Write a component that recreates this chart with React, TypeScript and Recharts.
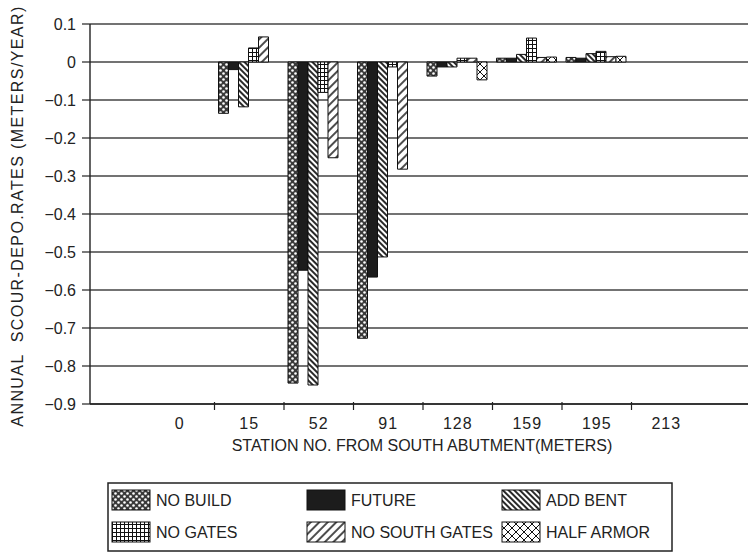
import React from 'react';
import { BarChart, Bar, XAxis, YAxis, CartesianGrid } from 'recharts';

// stations (m from south abutment) and annual scour/deposition rates (m/yr)
const stations = ['0', '15', '52', '91', '128', '159', '195', '213'];
const noBuild = [0, -0.135, -0.845, -0.727, -0.037, 0.01, 0.012, 0];
const future = [0, -0.02, -0.548, -0.566, -0.013, 0.01, 0.01, 0];
const addBent = [0, -0.118, -0.85, -0.513, -0.013, 0.02, 0.022, 0];
const noGates = [0, 0.037, -0.08, -0.013, 0.01, 0.063, 0.028, 0];
const noSouthGates = [0, 0.066, -0.252, -0.282, 0.01, 0.012, 0.014, 0];
const halfArmor = [0, 0, 0, 0, -0.047, 0.013, 0.015, 0];
const yTicks = [0.1, 0, -0.1, -0.2, -0.3, -0.4, -0.5, -0.6, -0.7, -0.8, -0.9];

const series = [
  { key: 'NO BUILD', values: noBuild, fill: 'url(#pNoBuild)' },
  { key: 'FUTURE', values: future, fill: '#1c1c1c' },
  { key: 'ADD BENT', values: addBent, fill: 'url(#pAddBent)' },
  { key: 'NO GATES', values: noGates, fill: 'url(#pNoGates)' },
  { key: 'NO SOUTH GATES', values: noSouthGates, fill: 'url(#pNoSouth)' },
  { key: 'HALF ARMOR', values: halfArmor, fill: 'url(#pHalfArmor)' },
];

const chartData = stations.map((s, i) => {
  const row: Record<string, string | number> = { station: s };
  series.forEach((sr) => {
    row[sr.key] = sr.values[i];
  });
  return row;
});

const FONT = '"Liberation Sans", Arial, sans-serif';
const INK = '#222';
const W = 748;
const H = 552;
const PLOT_LEFT = 90;
const PAD_L = 55;
const PAD_R = 47;
const BAND = (W - PLOT_LEFT - PAD_L - PAD_R) / stations.length;

const fmtY = (v: number) => {
  if (Math.abs(v) < 1e-9) return '0';
  return (v < 0 ? '\u2212' : '') + Math.abs(v).toFixed(1);
};

const StationTick = (props: any) => {
  const { x, y, payload, index } = props;
  const axisY = y - 8;
  return (
    <g>
      <text x={x} y={y + 17} textAnchor="middle" fill={INK} fontSize={16} fontFamily={FONT} letterSpacing={1}>
        {payload.value}
      </text>
      {index < stations.length - 1 && (
        <line x1={x + BAND / 2} x2={x + BAND / 2} y1={axisY - 2} y2={axisY + 6} stroke={INK} strokeWidth={1.2} />
      )}
    </g>
  );
};

const Patterns = () => (
  <svg width={0} height={0} style={{ position: 'absolute' }}>
    <defs>
      <pattern id="pNoBuild" patternUnits="userSpaceOnUse" width={6} height={6}>
        <rect width={6} height={6} fill="#3a3a3a" />
        <circle cx={1.5} cy={1.5} r={1.3} fill="#fff" />
        <circle cx={4.5} cy={4.5} r={1.3} fill="#fff" />
      </pattern>
      <pattern id="pAddBent" patternUnits="userSpaceOnUse" width={4} height={4} patternTransform="rotate(-45)">
        <rect width={4} height={4} fill="#fff" />
        <line x1={1} y1={0} x2={1} y2={4} stroke="#111" strokeWidth={1.8} />
      </pattern>
      <pattern id="pNoGates" patternUnits="userSpaceOnUse" width={4} height={4}>
        <rect width={4} height={4} fill="#fff" />
        <path d="M0,0.5 H4 M0.5,0 V4" stroke="#111" strokeWidth={1} />
      </pattern>
      <pattern id="pNoSouth" patternUnits="userSpaceOnUse" width={6} height={6} patternTransform="rotate(45)">
        <rect width={6} height={6} fill="#fff" />
        <line x1={1} y1={0} x2={1} y2={6} stroke="#111" strokeWidth={1.5} />
      </pattern>
      <pattern id="pHalfArmor" patternUnits="userSpaceOnUse" width={8} height={8}>
        <rect width={8} height={8} fill="#fff" />
        <path d="M0,0 L8,8 M8,0 L0,8" stroke="#111" strokeWidth={1} />
      </pattern>
    </defs>
  </svg>
);

const legendCols = [112, 307, 502];
const legendRows = [500, 532];

const Overlay = () => (
  <svg width={W} height={H} style={{ position: 'absolute', left: 0, top: 0, pointerEvents: 'none' }}>
    {/* y axis title */}
    <text
      x={17}
      y={216}
      transform="rotate(-90 17 216)"
      textAnchor="middle"
      dominantBaseline="central"
      fill={INK}
      fontSize={16}
      fontFamily={FONT}
      letterSpacing={1.4}
      style={{ whiteSpace: 'pre' }}
    >
      {'ANNUAL  SCOUR-DEPO.RATES (METERS/YEAR)'}
    </text>
    {/* x axis title */}
    <text x={422} y={451} textAnchor="middle" fill={INK} fontSize={16} fontFamily={FONT}>
      STATION NO. FROM SOUTH ABUTMENT(METERS)
    </text>
    {/* legend */}
    <rect x={108} y={483} width={564} height={68} fill="#fff" stroke={INK} strokeWidth={1.5} />
    {series.map((s, i) => {
      const cx = legendCols[i % 3];
      const cy = legendRows[Math.floor(i / 3)];
      return (
        <g key={s.key}>
          <rect x={cx} y={cy - 10} width={38} height={20} fill={s.fill} stroke="#111" strokeWidth={1} />
          <text x={cx + 44} y={cy} dominantBaseline="central" fill={INK} fontSize={16} fontFamily={FONT}>
            {s.key}
          </text>
        </g>
      );
    })}
  </svg>
);

export default function App() {
  return (
    <div style={{ position: 'absolute', left: 0, top: 0, width: W, height: H, background: '#fff' }}>
      <Patterns />
      <BarChart
        width={W}
        height={H}
        data={chartData}
        margin={{ top: 24, right: 0, bottom: 88, left: 0 }}
        barCategoryGap={4}
        barGap={0}
      >
        <CartesianGrid vertical={false} stroke="#444" strokeWidth={1.4} />
        <XAxis
          dataKey="station"
          interval={0}
          height={60}
          padding={{ left: PAD_L, right: PAD_R }}
          axisLine={{ stroke: INK, strokeWidth: 1.4 }}
          tickLine={false}
          tick={(p: any) => <StationTick {...p} />}
        />
        <YAxis
          width={PLOT_LEFT}
          domain={[-0.9, 0.1]}
          ticks={yTicks}
          allowDataOverflow
          tickFormatter={fmtY}
          tickSize={8}
          tickMargin={6}
          axisLine={{ stroke: INK, strokeWidth: 1.4 }}
          tickLine={{ stroke: INK, strokeWidth: 1.2 }}
          tick={{ fill: INK, fontSize: 16, fontFamily: FONT }}
        />
        {series.map((s) => (
          <Bar key={s.key} dataKey={s.key} fill={s.fill} stroke="#111" strokeWidth={1} isAnimationActive={false} />
        ))}
      </BarChart>
      <Overlay />
    </div>
  );
}
